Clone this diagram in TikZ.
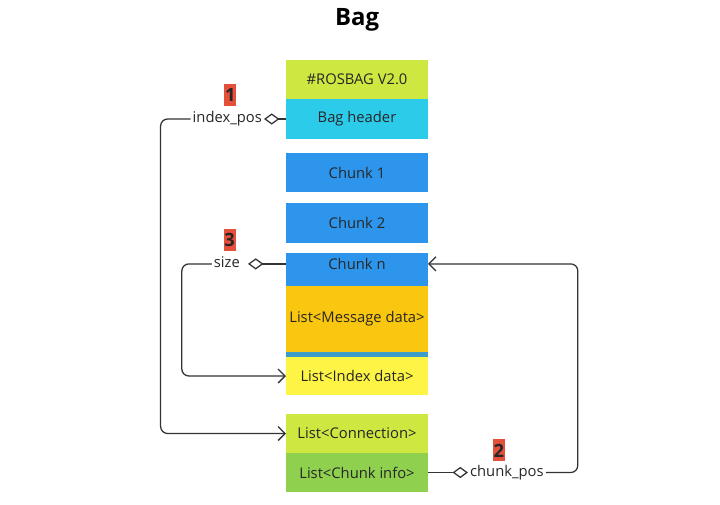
\documentclass[tikz,border=0pt]{standalone}
\usepackage{fontspec}
\setmainfont{Open Sans}
\usetikzlibrary{arrows.meta,shapes,positioning}
\definecolor{limefill}{HTML}{CEE741}
\definecolor{cyanfill}{HTML}{2DCBEA}
\definecolor{bluefill}{HTML}{2D96EC}
\definecolor{orangefill}{HTML}{FAC710}
\definecolor{stripfill}{HTML}{3C9DC9}
\definecolor{yellowfill}{HTML}{FEF445}
\definecolor{greenfill}{HTML}{8FD14F}
\definecolor{badgefill}{HTML}{E4503A}
\definecolor{txtcol}{HTML}{262626}
\definecolor{linecol}{HTML}{333333}
\tikzset{
  basic/.style   = {rectangle, minimum width=3.55cm, minimum height=0.975cm,
                    inner sep=0pt, outer sep=0pt, text=txtcol,
                    font=\fontsize{10.5}{12}\selectfont},
  rosbag/.style  = {basic, fill=limefill},
  header/.style  = {basic, fill=cyanfill, minimum height=1cm},
  chunk/.style   = {basic, fill=bluefill},
  msgdata/.style = {basic, fill=orangefill, minimum height=1.65cm},
  strip/.style   = {basic, fill=stripfill, minimum height=0.125cm},
  idxdata/.style = {basic, fill=yellowfill, minimum height=0.95cm},
  conn/.style    = {basic, fill=limefill},
  chinfo/.style  = {basic, fill=greenfill},
  tag/.style     = {inner sep=1.5pt, outer sep=0pt, text=txtcol,
                    text height=7.5pt, text depth=2pt,
                    font=\fontsize{10.5}{12}\selectfont},
  badge/.style   = {rectangle, fill=badgefill, minimum width=0.3cm,
                    minimum height=0.55cm, inner sep=0pt, text=black!85,
                    font=\bfseries\fontsize{13}{13}\selectfont},
  hold/.tip      = {Diamond[open,length=11pt,width=8pt]}
}

\begin{document}
\begin{tikzpicture}[
  link/.style={draw=linecol, line width=0.9pt, rounded corners=5pt},
  >={Straight Barb[length=5pt,width=10pt]}]
\useasboundingbox (0,0) rectangle (18,12.6);

\node[font=\bfseries\fontsize{17}{20}\selectfont, text=black] (title) at (8.925,12.1) {Bag};

% bag blocks, stacked from the top
\node[rosbag] (ver) at (8.925,10.6125) {\#ROSBAG V2.0};
\node[header, below=0 of ver] (hdr) {Bag header};
\node[chunk, below=0.35cm of hdr] (chunk1) {Chunk 1};
\node[chunk, below=0.275cm of chunk1, minimum height=1cm] (chunk2) {Chunk 2};
\node[chunk, below=0.25cm of chunk2, minimum height=0.825cm,
      text height=0.3cm, text depth=0.3cm] (chunkn) {Chunk n};
\node[msgdata, below=0 of chunkn] (msg) {List<Message data>};
\node[strip, below=0 of msg] (sep) {};
\node[idxdata, below=0 of sep] (idx) {List<Index data>};
\node[conn, below=0.475cm of idx] (connlist) {List<Connection>};
\node[chinfo, below=0 of connlist] (info) {List<Chunk info>};

% field labels
\node[tag, left=0.55cm of hdr] (idxpos) {index\_pos};
\node[tag, left=1.1cm of chunkn, yshift=0.14cm] (size) {size};
\node[tag, right=1cm of info] (cpos) {chunk\_pos};

% numbered badges
\node[badge, above=0.1cm of idxpos, xshift=0.075cm] (b1) {1};
\node[badge, above=0.1cm of size, xshift=0.065cm] (b3) {3};
\node[badge, above=0.05cm of cpos, xshift=-0.2cm] (b2) {2};

% pointers
\draw[link, hold-] (idxpos.east) -- (hdr.west);
\draw[link, ->] (idxpos.west) -- ++(-0.75,0) |- (connlist.west);
\draw[link, hold-] ([xshift=0.15cm]size.east) -- (size.east -| chunkn.west);
\draw[link, ->] (size.west) -- ++(-0.75,0) |- (idx.west);
\draw[link, -hold] (info.east) -- (cpos.west);
\draw[link, ->] (cpos.east) -- ++(0.8,0) |- (size.east -| chunkn.east);
\end{tikzpicture}
\end{document}
